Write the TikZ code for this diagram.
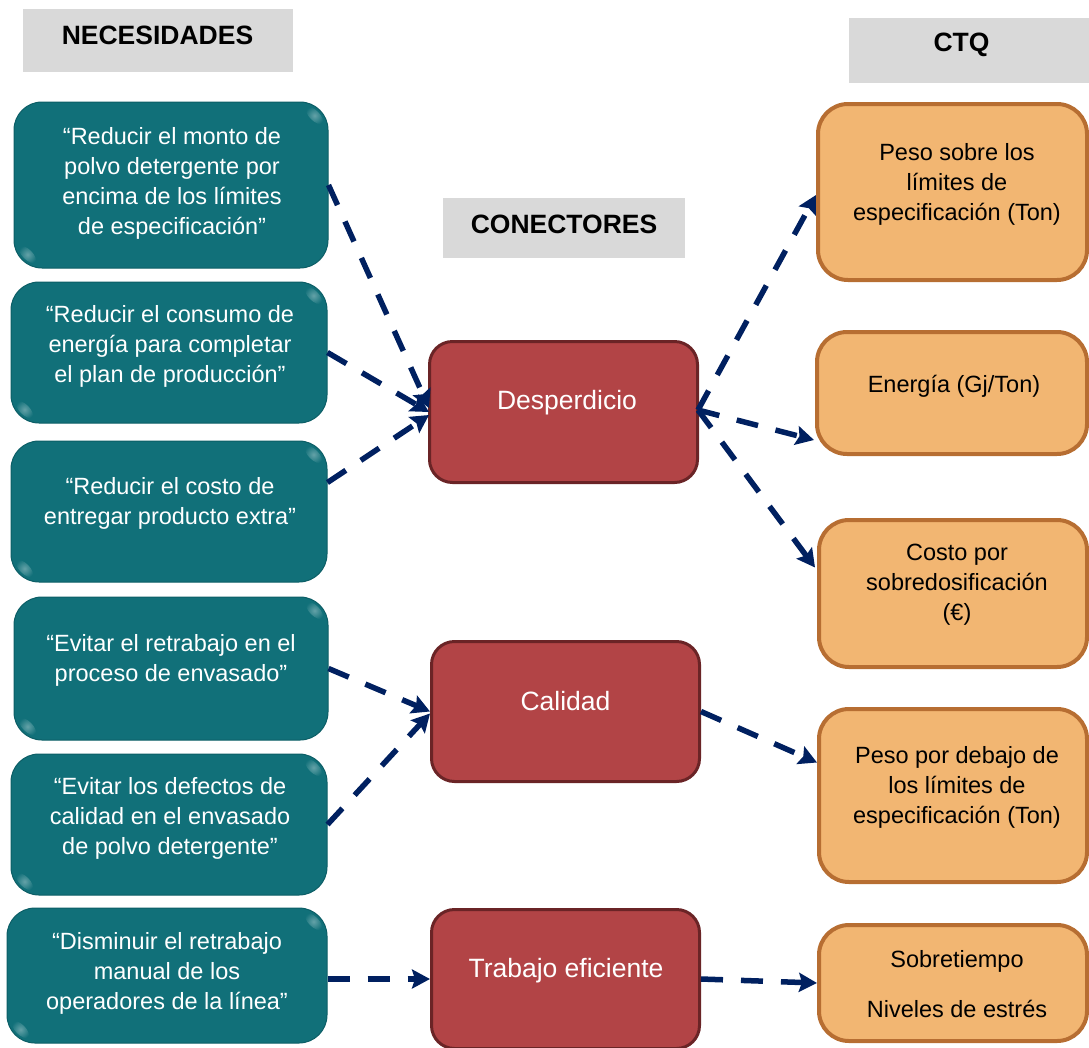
\documentclass[tikz,border=0pt]{standalone}
\usepackage{fontspec}
\setmainfont{Liberation Sans}
\usetikzlibrary{arrows.meta,calc}

\definecolor{tealbox}{RGB}{17,112,121}
\definecolor{tealedge}{RGB}{12,94,102}
\definecolor{redbox}{RGB}{178,68,70}
\definecolor{rededge}{RGB}{106,36,38}
\definecolor{orangebox}{RGB}{242,182,114}
\definecolor{orangeedge}{RGB}{183,110,50}
\definecolor{headgray}{RGB}{217,217,217}
\definecolor{navy}{RGB}{0,32,96}

\tikzset{
  need/.style={rectangle, rounded corners=28pt, fill=tealbox, draw=tealedge, line width=1pt, inner sep=0pt},
  needtext/.style={text=white, align=center, inner sep=0pt, font=\fontsize{23.5}{30}\selectfont},
  link/.style={rectangle, rounded corners=23pt, fill=redbox, draw=rededge, line width=3pt, inner sep=0pt},
  linktext/.style={text=white, inner sep=0pt, font=\fontsize{26.5}{32}\selectfont},
  ctq/.style={rectangle, rounded corners=30pt, fill=orangebox, draw=orangeedge, line width=4pt, inner sep=0pt},
  ctqtext/.style={text=black, align=center, inner sep=0pt, font=\fontsize{23.5}{30}\selectfont},
  header/.style={rectangle, fill=headgray, inner sep=0pt},
  headertext/.style={inner sep=0pt, font=\fontsize{26.5}{32}\selectfont\bfseries},
  flow/.style={draw=navy, line width=5.5pt, dash pattern=on 22pt off 18pt,
    -{Stealth[length=18pt,width=19pt,inset=3pt]}},
  shine/.style={inner color=white!35!tealbox, outer color=tealbox}
}

% soft glossy spots on two corners of a teal box
\newcommand\needgloss[1]{%
  \shade[shine] ($(#1.north east)+(-14,14)$) ellipse [x radius=11pt, y radius=5pt, rotate=-45];
  \shade[shine] ($(#1.south west)+(14,-14)$) ellipse [x radius=11pt, y radius=5pt, rotate=-45];
}

\begin{document}
\begin{tikzpicture}[x=1pt,y=-1pt]
\useasboundingbox (0,0) rectangle (1089,1047);

% column headers
\node[header, minimum width=270pt, minimum height=63pt] (hneed) at (158,40.5) {};
\node[headertext] (hneedt) at (157.5,35) {NECESIDADES};
\node[header, minimum width=242pt, minimum height=60pt] (hlink) at (564,228) {};
\node[headertext] (hlinkt) at (564,224) {CONECTORES};
\node[header, minimum width=240pt, minimum height=65pt] (hctq) at (969,50.5) {};
\node[headertext] (hctqt) at (961.5,45) {CTQ};

% needs (left column)
\node[need, minimum width=314pt, minimum height=166pt] (n1) at (171,185) {};
\needgloss{n1}
\node[needtext] (n1t) at (172,183) {“Reducir el monto de\\polvo detergente por\\encima de los límites\\de especificación”};

\node[need, minimum width=316pt, minimum height=141pt] (n2) at (169,352.5) {};
\needgloss{n2}
\node[needtext] (n2t) at (170,346) {“Reducir el consumo de\\energía para completar\\el plan de producción”};

\node[need, minimum width=316pt, minimum height=141pt] (n3) at (169,511.5) {};
\needgloss{n3}
\node[needtext] (n3t) at (170,503) {“Reducir el costo de\\entregar producto extra”};

\node[need, minimum width=314pt, minimum height=143pt] (n4) at (171,668.5) {};
\needgloss{n4}
\node[needtext] (n4t) at (171,660) {“Evitar el retrabajo en el\\proceso de envasado”};

\node[need, minimum width=316pt, minimum height=141pt] (n5) at (169,824.5) {};
\needgloss{n5}
\node[needtext] (n5t) at (170,818) {“Evitar los defectos de\\calidad en el envasado\\de polvo detergente”};

\node[need, minimum width=320pt, minimum height=135pt] (n6) at (167,975.5) {};
\needgloss{n6}
\node[needtext] (n6t) at (167,973) {“Disminuir el retrabajo\\manual de los\\operadores de la línea”};

% connectors (middle column)
\node[link, minimum width=268pt, minimum height=141pt] (r1) at (563.5,412) {};
\node[linktext] (r1t) at (567,403) {Desperdicio};
\node[link, minimum width=268pt, minimum height=140pt] (r2) at (565.5,711.5) {};
\node[linktext] (r2t) at (565.5,701) {Calidad};
\node[link, minimum width=268pt, minimum height=139pt] (r3) at (565.5,979) {};
\node[linktext] (r3t) at (566,971) {Trabajo eficiente};

% CTQ (right column)
\node[ctq, minimum width=269pt, minimum height=176pt] (o1) at (952.5,192) {};
\node[ctqtext] (o1t) at (957,184) {Peso sobre los\\límites de\\especificación (Ton)};
\node[ctq, minimum width=270pt, minimum height=122pt] (o2) at (952,393) {};
\node[ctqtext] (o2t) at (954,386) {Energía (Gj/Ton)};
\node[ctq, minimum width=268pt, minimum height=147pt] (o3) at (953,593.5) {};
\node[ctqtext] (o3t) at (957,585) {Costo por\\sobredosificación\\(€)};
\node[ctq, minimum width=268pt, minimum height=173pt] (o4) at (953,795.5) {};
\node[ctqtext] (o4t) at (957,787) {Peso por debajo de\\los límites de\\especificación (Ton)};
\node[ctq, minimum width=268pt, minimum height=116pt] (o5) at (953,983) {};
\node[ctqtext] (o5t) at (957,984) {Sobretiempo\\[20pt]Niveles de estrés};

% needs -> connectors
\draw[flow] (n1.east) -- ($(r1.west)+(1,-4)$);
\draw[flow] (n2.east) -- ($(r1.west)+(1,0)$);
\draw[flow] ($(n3.east)+(0,-29)$) -- ($(r1.west)+(1,3)$);
\draw[flow] (n4.east) -- ($(r2.west)+(0,0)$);
\draw[flow] (n5.east) -- ($(r2.west)+(0,2)$);
\draw[flow] (n6.east |- r3.west) -- (r3.west);

% connectors -> CTQ
\draw[flow] ($(r1.east)+(-1,-2)$) -- ($(o1.west)+(0,3)$);
\draw[flow] ($(r1.east)+(-1,-2)$) -- ($(o2.west)+(-1,47)$);
\draw[flow] ($(r1.east)+(-1,-2)$) -- ($(o3.west)+(-2,-26)$);
\draw[flow] (r2.east) -- ($(o4.west)+(0,-33)$);
\draw[flow] (r3.east) -- ($(o5.west)+(0,0)$);
\end{tikzpicture}
\end{document}
